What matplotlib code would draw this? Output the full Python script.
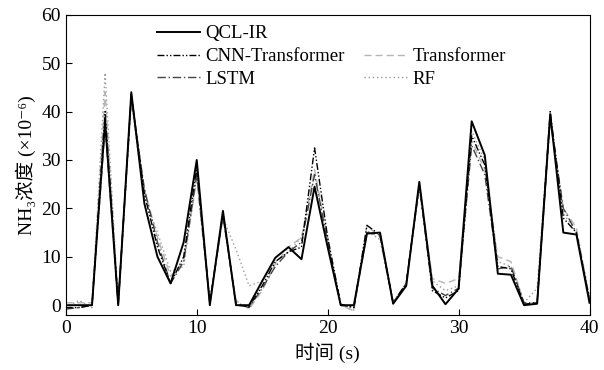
import matplotlib
matplotlib.use("Agg")
from matplotlib import pyplot as plt
from matplotlib.lines import Line2D

plt.rcParams['font.family'] = ['Liberation Serif', 'Noto Sans CJK SC', 'DejaVu Sans']
plt.rcParams['font.size'] = 14

# 时间 (s)
t = list(range(0, 41))

qcl_ir = [0, 0, 0, 38, 0, 44, 21, 10, 4.5, 13, 30, 0, 19.5, 0, 0, 5, 9.8, 12, 9.5, 24.5, 12,
          0, 0, 14.8, 15, 0.3, 4, 25.5, 4, 0.2, 3.4, 38, 31, 6.5, 6.3, 0, 0.3, 39.5, 15, 14.6, 0.5]
cnn_transformer = [-0.5, -0.5, 0, 40, 0, 43.5, 23, 12, 4.5, 10, 28.5, 0.5, 19, 0, -0.3, 4, 9, 11, 12, 32.5, 14,
                   0.2, -0.5, 16.5, 14.5, 0.5, 4.5, 25, 3, 1.5, 3, 35, 29, 8, 7.5, 0.2, 0.5, 40, 18, 15, 1]
transformer = [0.5, 0.5, 0.5, 44, 1, 42, 24, 14, 6, 9, 26, 1, 18, 1, -0.8, 3, 8.5, 12, 14, 28, 14,
               0, -1.2, 16.5, 14, 0.5, 4.5, 24.5, 5.5, 4.5, 5.5, 34, 28, 10, 9, 0.5, 0.5, 38, 20, 16, 1.5]
lstm = [-0.8, -0.5, 0, 37, 0.5, 43, 24, 13, 4.5, 9, 27, 0.5, 18.5, 0.5, -0.5, 3.5, 8, 11, 13, 27, 13,
        0, -0.5, 15, 14.5, 0.5, 4.5, 25, 3.5, 2, 3.5, 33, 27, 7.5, 8, 0.5, 0.5, 38.5, 20, 15, 1]
rf = [-0.5, 1, -0.5, 48, 0, 42, 22, 15, 7, 8, 27, 0.5, 18, 11.5, 4, 5, 9, 11, 14, 27, 13,
      0, -1, 15.5, 13.5, 0.5, 4.5, 24, 5, 3, 4, 36, 30, 9, 8, 0.5, 3.5, 39, 19, 15, 2]

fig = plt.figure(figsize=(6.04, 3.70), dpi=100)
ax = fig.add_axes([0.109, 0.149, 0.867, 0.811])

h_rf, = ax.plot(t, rf, color='#9a9a9a', linestyle=(0, (1, 2)), linewidth=1.0, label='RF')
h_tr, = ax.plot(t, transformer, color='#b5b5b5', linestyle=(0, (5, 3)), linewidth=1.0, label='Transformer')
h_lstm, = ax.plot(t, lstm, color='#444444', linestyle=(0, (6, 2, 1, 2)), linewidth=1.0, label='LSTM')
h_cnn, = ax.plot(t, cnn_transformer, color='black', linestyle=(0, (5, 1.5, 1, 1.5, 1, 1.5)),
                 linewidth=1.0, label='CNN-Transformer')
h_qcl, = ax.plot(t, qcl_ir, color='black', linestyle='-', linewidth=1.4, label='QCL-IR')

# 图例: 两列, 第二列第一行空着
blank = Line2D([], [], linestyle='none')
handles = [h_qcl, h_cnn, h_lstm, blank, h_tr, h_rf]
labels = ['QCL-IR', 'CNN-Transformer', 'LSTM', '', 'Transformer', 'RF']
ax.legend(handles, labels, ncol=2, loc='upper left', bbox_to_anchor=(0.174, 0.965),
          frameon=False, handlelength=2.3, handletextpad=0.27, columnspacing=1.05,
          labelspacing=0.3, fontsize=13.5, borderaxespad=0, borderpad=0)

ax.set_xlim(0, 40)
ax.set_ylim(-2, 60)
ax.set_xticks([0, 10, 20, 30, 40])
ax.set_yticks([0, 10, 20, 30, 40, 50, 60])
ax.tick_params(direction='in', length=4, labelsize=14)
ax.set_xlabel('时间 (s)', fontsize=14)
ax.set_ylabel('NH₃浓度 (×10⁻⁶)', fontsize=14)

plt.savefig("out.png", dpi=100)
